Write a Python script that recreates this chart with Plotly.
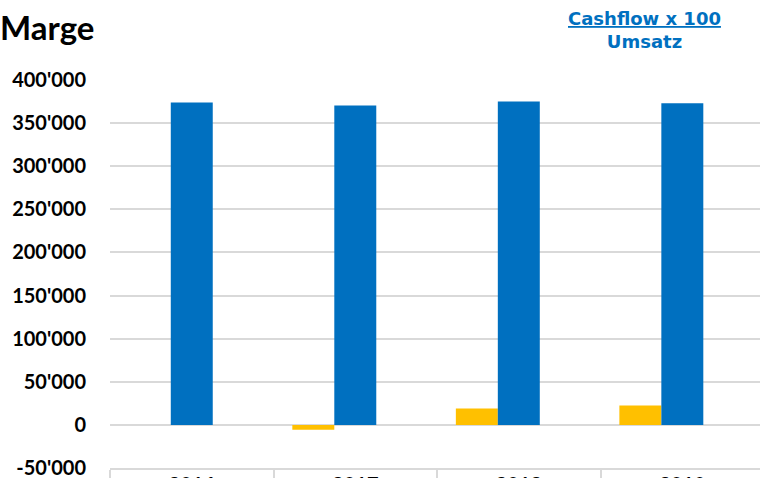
import plotly.graph_objects as go

years = ["2016", "2017", "2018", "2019"]
cashflow = [None, -5500, 19000, 22500]
umsatz = [374000, 370500, 375000, 373000]
marge = [None, None, None, None]

tickvals = [-50000, 0, 50000, 100000, 150000, 200000, 250000, 300000, 350000, 400000]
ticktext = ["-50'000", "0", "50'000", "100'000", "150'000", "200'000",
            "250'000", "300'000", "350'000", "400'000"]

FONT = "Lato"
L, T, B = 110, 80, 10
W, H = 760, 478
fig = go.Figure()
fig.add_trace(go.Bar(x=years, y=cashflow, name="Cashflow", marker_color="#FFC000", marker_line_width=0))
fig.add_trace(go.Bar(x=years, y=umsatz, name="Umsatz", marker_color="#0070C0", marker_line_width=0))
fig.add_trace(go.Bar(x=years, y=marge, name="Marge", marker_color="#A5A5A5", marker_line_width=0))

fig.update_layout(
    width=W, height=H,
    margin=dict(l=L, r=0, t=T, b=B, autoexpand=False),
    plot_bgcolor="white", paper_bgcolor="white",
    showlegend=False,
    barmode="group", bargap=0.23, bargroupgap=0,
    font=dict(family=FONT, color="black"),
    title=dict(text="<b>Marge</b>", x=0, xref="container", xanchor="left",
               y=1 - 28 / H, yref="container", yanchor="middle",
               font=dict(family=FONT, size=33, color="black")),
)
fig.update_yaxes(
    range=[-50000, 400000], tickvals=tickvals, ticktext=ticktext,
    showgrid=True, gridcolor="#D9D9D9", gridwidth=1.5, automargin=False,
    zeroline=False, showline=False, ticks="", ticklabelstandoff=23,
    ticklabeloverflow="allow",
    tickfont=dict(family=FONT, size=20, color="black", weight="bold"),
)
fig.update_xaxes(
    range=[-0.5, 3.475], showgrid=False, zeroline=False, automargin=False,
    showline=True, linecolor="#D9D9D9", linewidth=1.5,
    ticks="outside", tickson="boundaries", ticklen=14, tickcolor="#D9D9D9", tickwidth=1.5,
    ticklabelstandoff=-2, ticklabeloverflow="allow",
    tickfont=dict(family=FONT, size=20, color="black", weight="bold"),
)
pw, ph = W - L, H - T - B
fig.add_annotation(
    text="<b><u>Cashflow x 100</u></b><br><b>Umsatz</b>",
    x=(644 - L) / pw, y=(H - B - 30) / ph, xref="paper", yref="paper",
    showarrow=False, xanchor="center", yanchor="middle",
    font=dict(family="DejaVu Sans", size=18, color="#0070C0"), align="center",
)
fig.write_html("out.html", config={"displayModeBar": False},
               post_script="document.body.style.margin='0';")
